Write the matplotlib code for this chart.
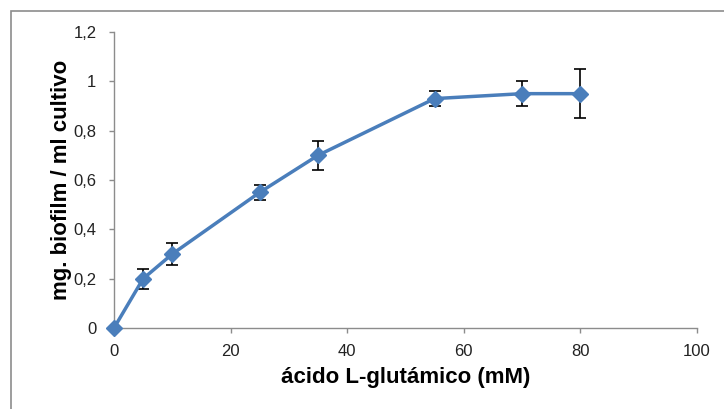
import matplotlib
matplotlib.use("Agg")
import matplotlib.pyplot as plt
from matplotlib.patches import Rectangle
from matplotlib.ticker import FuncFormatter

# Datos
glutamico_mM = [0, 5, 10, 25, 35, 55, 70, 80]
biofilm = [0, 0.2, 0.3, 0.55, 0.7, 0.93, 0.95, 0.95]
error = [0, 0.04, 0.045, 0.03, 0.06, 0.03, 0.05, 0.1]

x_ticks = [0, 20, 40, 60, 80, 100]
y_ticks = [0, 0.2, 0.4, 0.6, 0.8, 1.0, 1.2]

azul = '#4A7EBB'
gris = '#8C8C8C'

fig = plt.figure(figsize=(7.24, 4.09), dpi=100)
ax = fig.add_axes([114 / 724, 1 - 328 / 409, (697 - 114) / 724, (328 - 32) / 409])

# marco del gráfico (como en Excel)
fig.patches.append(Rectangle((11 / 724, -0.1), 1.2, 1 - 11 / 409 + 0.1,
                             transform=fig.transFigure, fill=False,
                             edgecolor=gris, linewidth=1.2))

ax.errorbar(glutamico_mM, biofilm, yerr=error, fmt='none', ecolor='black',
            elinewidth=1.2, capsize=4, capthick=1.2, zorder=2)
ax.plot(glutamico_mM, biofilm, color=azul, linewidth=2.5, marker='D',
        markersize=8, markerfacecolor=azul, markeredgecolor=azul, zorder=3,
        clip_on=False)

ax.set_xlim(0, 100)
ax.set_ylim(0, 1.2)
ax.set_xticks(x_ticks)
ax.set_yticks(y_ticks)

def coma(v, pos):
    s = f'{v:.1f}'.rstrip('0').rstrip('.')
    return s.replace('.', ',')

ax.yaxis.set_major_formatter(FuncFormatter(coma))
ax.xaxis.set_major_formatter(FuncFormatter(lambda v, p: f'{int(v)}'))

for lado in ['top', 'right']:
    ax.spines[lado].set_visible(False)
for lado in ['left', 'bottom']:
    ax.spines[lado].set_color(gris)
    ax.spines[lado].set_linewidth(1)
ax.tick_params(direction='out', length=3.6, width=1, color=gris,
               labelsize=12, labelcolor='#222222')
ax.tick_params(axis='x', pad=8)
ax.tick_params(axis='y', pad=9)
for lbl in ax.get_xticklabels() + ax.get_yticklabels():
    lbl.set_family('Liberation Sans')

ax.set_xlabel('ácido L-glutámico (mM)', fontsize=16, fontweight='bold',
              family='Liberation Sans', labelpad=6)
ax.set_ylabel('mg. biofilm / ml cultivo', fontsize=16, fontweight='bold',
              family='Liberation Sans', labelpad=1)

fig.savefig('out.png', dpi=100)
